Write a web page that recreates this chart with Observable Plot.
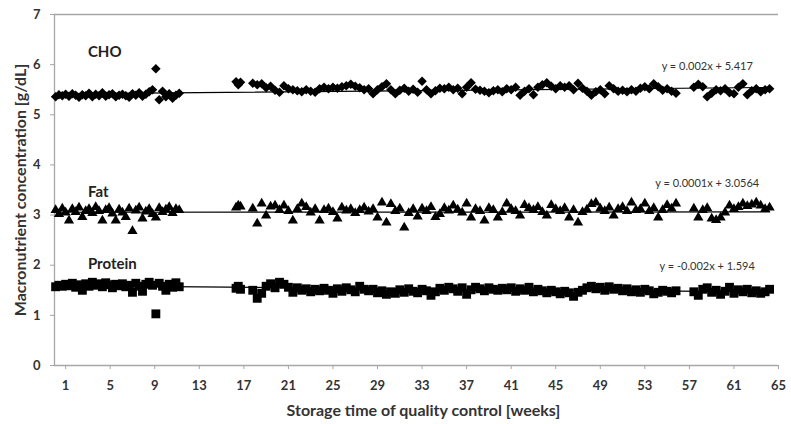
<!DOCTYPE html>
<html>
<head>
<meta charset="utf-8">
<script src="https://cdn.jsdelivr.net/npm/d3@7"></script>
<script src="https://cdn.jsdelivr.net/npm/@observablehq/plot@0.6"></script>
<style>
  html, body { margin: 0; padding: 0; background: #fff; }
</style>
</head>
<body>
<div id="chart"></div>
<script>
// ---- data ----
const seriesNames = ["CHO", "Fat", "Protein"];

const weeks = [
  0.1,0.4,0.7,1.0,1.3,1.6,1.9,2.2,2.5,2.8,
  3.1,3.4,3.7,4.0,4.3,4.6,4.9,5.2,5.5,5.8,
  6.1,6.4,6.7,7.0,7.3,7.6,7.9,8.2,8.5,8.8,
  9.1,9.4,9.7,10.0,10.3,10.6,10.9,11.2,
  16.3,16.5,16.7,17.8,18.2,18.6,19.0,19.4,19.8,20.2,
  20.6,21.0,21.4,21.8,22.2,22.6,23.0,23.4,23.8,24.2,
  24.6,25.0,25.4,25.8,26.2,26.6,27.0,27.4,27.8,28.2,
  28.6,29.0,29.4,29.8,30.2,30.6,31.0,31.4,31.8,32.2,
  32.6,33.0,33.4,33.8,34.2,34.6,35.0,35.4,35.8,36.2,
  36.6,37.0,37.4,37.8,38.2,38.6,39.0,39.4,39.8,40.2,
  40.6,41.0,41.4,41.8,42.2,42.6,43.0,43.4,43.8,44.2,
  44.6,45.0,45.4,45.8,46.2,46.6,47.0,47.4,47.8,48.2,
  48.6,49.0,49.4,49.8,50.2,50.6,51.0,51.4,51.8,52.2,
  52.6,53.0,53.4,53.8,54.2,54.6,55.0,55.4,55.8,57.4,
  57.8,58.2,58.6,59.0,59.4,59.8,60.2,60.6,61.0,61.4,
  61.8,62.2,62.6,63.0,63.4,63.8,64.2
];

const cho = [
  5.36,5.40,5.38,5.41,5.37,5.42,5.39,5.35,5.40,5.38,
  5.43,5.36,5.41,5.38,5.44,5.37,5.40,5.42,5.36,5.39,
  5.41,5.38,5.35,5.42,5.39,5.44,5.37,5.41,5.46,5.50,
  5.92,5.30,5.47,5.36,5.42,5.33,5.39,5.43,
  5.66,5.60,5.65,5.63,5.60,5.62,5.54,5.57,5.49,5.45,
  5.58,5.52,5.50,5.48,5.46,5.50,5.47,5.45,5.52,5.55,
  5.52,5.55,5.53,5.56,5.58,5.61,5.57,5.54,5.50,5.52,
  5.42,5.50,5.56,5.62,5.50,5.42,5.49,5.53,5.47,5.51,
  5.45,5.67,5.50,5.42,5.48,5.53,5.52,5.55,5.50,5.53,
  5.42,5.55,5.64,5.51,5.49,5.47,5.44,5.48,5.50,5.46,
  5.52,5.50,5.55,5.39,5.47,5.52,5.40,5.55,5.60,5.64,
  5.57,5.52,5.58,5.55,5.58,5.50,5.63,5.53,5.47,5.39,
  5.46,5.50,5.42,5.58,5.52,5.47,5.49,5.46,5.50,5.47,
  5.53,5.56,5.52,5.62,5.56,5.49,5.52,5.47,5.43,5.55,
  5.61,5.56,5.36,5.43,5.50,5.48,5.52,5.44,5.42,5.55,
  5.62,5.40,5.48,5.52,5.46,5.50,5.52
];

const fat = [
  3.10,3.02,3.13,3.05,2.89,3.12,3.06,3.15,2.96,3.08,
  3.12,3.04,3.16,3.08,2.89,3.10,3.14,3.03,2.89,3.11,
  3.05,2.96,3.13,2.68,3.09,3.15,2.93,3.07,3.12,3.02,
  2.95,3.14,3.06,3.11,3.16,3.04,3.12,3.10,
  3.15,3.19,3.17,3.13,2.83,3.23,2.99,3.17,3.19,3.10,
  3.19,3.08,2.89,3.12,3.23,3.16,3.05,3.12,2.89,3.10,
  3.13,3.06,2.93,3.15,3.09,3.12,3.04,3.10,3.15,3.07,
  3.12,2.95,3.25,2.85,3.22,3.08,3.13,2.75,3.04,3.12,
  2.97,3.13,3.08,3.16,2.96,3.02,3.14,3.09,3.19,3.11,
  3.05,3.23,2.95,3.12,3.08,2.89,3.14,3.10,2.95,3.06,
  3.23,3.12,3.08,2.99,3.20,3.14,3.10,3.16,3.06,2.99,
  3.20,3.12,3.08,3.14,2.95,3.10,2.85,3.06,3.11,3.22,
  3.25,3.13,3.08,3.15,2.99,3.12,3.16,3.08,3.25,3.10,
  3.12,3.23,3.08,3.14,2.95,3.10,3.20,3.13,3.23,3.13,
  2.95,3.10,3.14,2.93,2.90,2.95,3.05,3.19,3.12,3.16,
  3.23,3.18,3.21,3.25,3.19,3.12,3.15
];

const protein = [
  1.57,1.60,1.58,1.62,1.59,1.64,1.56,1.61,1.50,1.63,
  1.58,1.66,1.60,1.63,1.57,1.65,1.61,1.55,1.62,1.59,
  1.63,1.57,1.60,1.46,1.64,1.58,1.48,1.62,1.66,1.60,
  1.03,1.64,1.58,1.50,1.62,1.56,1.65,1.57,
  1.54,1.58,1.52,1.50,1.34,1.44,1.58,1.63,1.55,1.66,
  1.62,1.56,1.46,1.55,1.50,1.53,1.47,1.52,1.49,1.54,
  1.50,1.44,1.53,1.48,1.55,1.51,1.47,1.58,1.52,1.49,
  1.52,1.45,1.49,1.42,1.47,1.44,1.51,1.46,1.53,1.48,
  1.45,1.52,1.49,1.40,1.47,1.54,1.50,1.56,1.53,1.48,
  1.55,1.42,1.51,1.56,1.53,1.49,1.55,1.52,1.50,1.54,
  1.51,1.55,1.48,1.53,1.50,1.56,1.47,1.52,1.49,1.45,
  1.50,1.47,1.43,1.48,1.45,1.38,1.46,1.50,1.55,1.58,
  1.53,1.56,1.50,1.57,1.52,1.54,1.49,1.53,1.47,1.51,
  1.46,1.52,1.49,1.43,1.46,1.50,1.48,1.45,1.49,1.47,
  1.40,1.52,1.55,1.46,1.50,1.42,1.48,1.56,1.44,1.51,
  1.47,1.52,1.45,1.49,1.44,1.47,1.52
];

// linear trend lines shown in the reference
const trendSlopes = [0.002, 0.0001, -0.002];
const trendIntercepts = [5.417, 3.0564, 1.594];
const equationLabels = ["y = 0.002x + 5.417", "y = 0.0001x + 3.0564", "y = -0.002x + 1.594"];

// axis ticks
const xTicks = [1, 5, 9, 13, 17, 21, 25, 29, 33, 37, 41, 45, 49, 53, 57, 61, 65];
const yTicks = [0, 1, 2, 3, 4, 5, 6, 7];

// annotation anchors (data units)
const nameLabelWeek = 3.0;
const nameLabelValue = [6.24, 3.45, 2.03];
const equationWeek = 58.6;
const equationValue = [5.96, 3.63, 1.97];

// ---- build tables ----
const valueArrays = [cho, fat, protein];
const points = seriesNames.map((s, k) =>
  weeks.map((w, i) => ({series: s, week: w, value: valueArrays[k][i]})).filter(d => d.value != null)
);
const [wMin, wMax] = d3.extent(weeks);
const trends = seriesNames.flatMap((s, k) => [wMin, wMax].map(w => ({
  series: s, week: w, value: trendIntercepts[k] + trendSlopes[k] * w
})));
const nameLabels = seriesNames.map((s, k) => ({text: s, week: nameLabelWeek, value: nameLabelValue[k]}));
const eqLabels = equationLabels.map((t, k) => ({text: t, week: equationWeek, value: equationValue[k]}));

const gray = "#a6a6a6";

const chart = Plot.plot({
  width: 791,
  height: 424,
  marginLeft: 54,
  marginRight: 13,
  marginTop: 14,
  marginBottom: 59,
  style: {fontFamily: "Lato, 'Open Sans', sans-serif", fontSize: "13px", fontWeight: "bold", background: "#fff", color: "#333"},
  x: {domain: [0, 65]},
  y: {domain: [0, 7]},
  marks: [
    Plot.ruleY([7], {stroke: gray, strokeWidth: 1.3}),
    Plot.ruleY([0], {stroke: gray, strokeWidth: 1.3}),
    Plot.ruleX([0], {stroke: gray, strokeWidth: 1.3}),
    Plot.axisX({ticks: xTicks, tickSize: 4, tickPadding: 11, stroke: gray, fill: "#333", fontSize: 13, label: null, tickFormat: d3.format("d")}),
    Plot.axisY({ticks: yTicks, tickSize: 4, tickPadding: 10, stroke: gray, fill: "#333", fontSize: 13, label: null, tickFormat: d3.format("d")}),
    Plot.dot(points[0], {x: "week", y: "value", symbol: "diamond2", r: 4.3, fill: "#000", stroke: "none"}),
    Plot.dot(points[1], {x: "week", y: "value", symbol: "triangle", r: 3.8, fill: "#000", stroke: "none"}),
    Plot.dot(points[2], {x: "week", y: "value", symbol: "square", r: 5, fill: "#000", stroke: "none"}),
    Plot.line(trends, {x: "week", y: "value", z: "series", stroke: "#000", strokeWidth: 1.2}),
    Plot.text(nameLabels, {x: "week", y: "value", text: "text", textAnchor: "start", fontSize: 15, fontWeight: "bold", fill: "#222"}),
    Plot.text(eqLabels, {x: "week", y: "value", text: "text", textAnchor: "middle", fontSize: 11, fontWeight: "normal", fill: "#333"}),
    Plot.text(["Storage time of quality control [weeks]"], {frameAnchor: "bottom", textAnchor: "middle", dx: 7, dy: 50, fontSize: 16, fontWeight: "bold", fill: "#333"}),
    Plot.text(["Macronutrient concentration [g/dL]"], {frameAnchor: "left", textAnchor: "middle", dx: -34, rotate: -90, fontSize: 16, fontWeight: "bold", fill: "#333"})
  ]
});
document.getElementById("chart").appendChild(chart);
</script>
</body>
</html>
